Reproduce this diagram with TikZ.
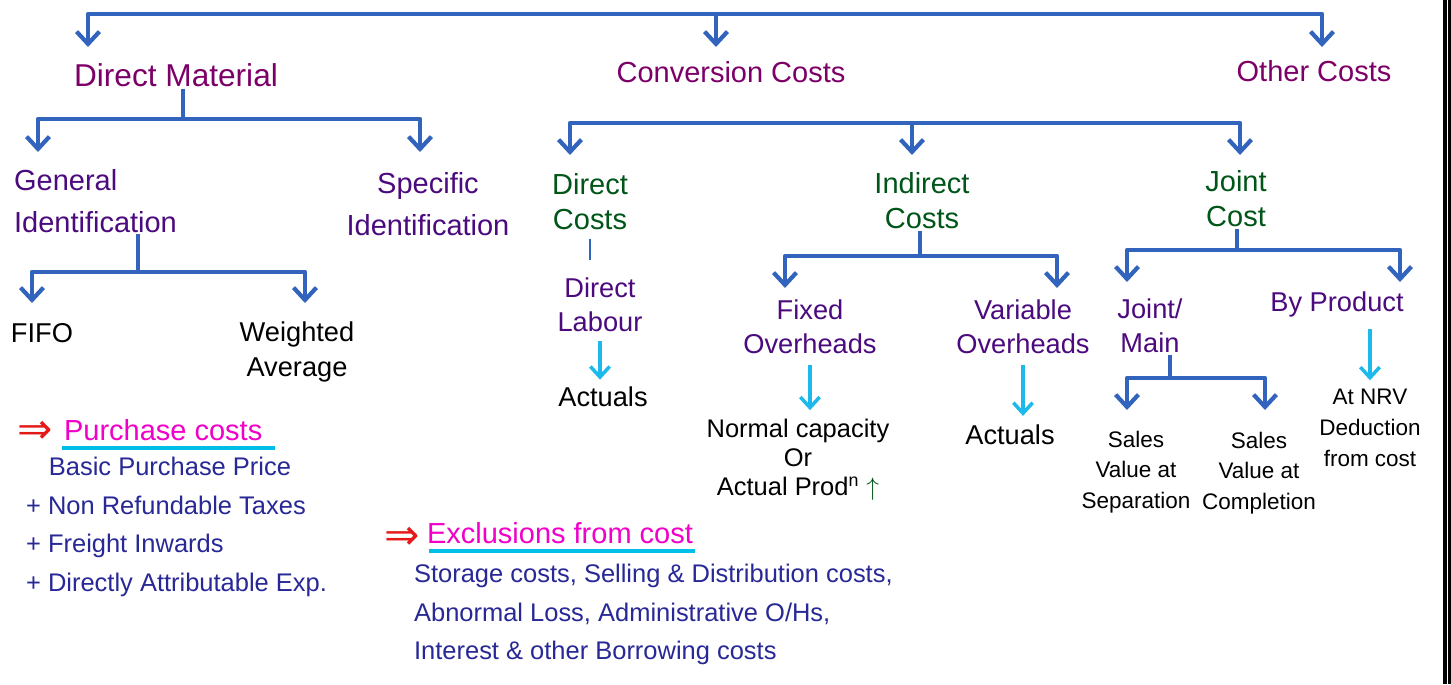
\documentclass[tikz,border=0pt]{standalone}
\usepackage{fontspec}
\setmainfont{Liberation Sans}
\newfontfamily\arrowfont{DejaVu Sans}
\usetikzlibrary{arrows.meta,positioning}
\definecolor{TreeBlue}{RGB}{50,100,190}
\definecolor{SkyArrow}{RGB}{30,185,235}
\definecolor{HeadPlum}{RGB}{125,0,105}
\definecolor{SubIndigo}{RGB}{75,10,125}
\definecolor{CostGreen}{RGB}{0,85,25}
\definecolor{NoteNavy}{RGB}{40,40,150}
\definecolor{HotPink}{RGB}{240,0,200}
\definecolor{LineCyan}{RGB}{0,190,230}
\definecolor{MarkRed}{RGB}{230,25,25}

\begin{document}
\begin{tikzpicture}[x=0.02cm,y=-0.02cm, every node/.style={align=center, inner sep=1pt}]
\tikzset{
  lvlone/.style={text=HeadPlum, font=\fontsize{16.5}{20}\selectfont},
  ident/.style={text=SubIndigo, font=\fontsize{16.5}{23.5}\selectfont},
  costs/.style={text=CostGreen, font=\fontsize{16.5}{20}\selectfont},
  subcost/.style={text=SubIndigo, font=\fontsize{15.5}{19.5}\selectfont},
  leaf/.style={text=black, font=\fontsize{15.5}{20}\selectfont},
  smallleaf/.style={text=black, font=\fontsize{12.8}{17.5}\selectfont},
  heading/.style={text=HotPink, font=\fontsize{16.5}{20}\selectfont},
  notes/.style={text=NoteNavy, align=left, font=\fontsize{14.5}{22}\selectfont},
  pointer/.style={text=MarkRed, font=\arrowfont\fontsize{24}{26}\selectfont},
  bus/.style={TreeBlue, line width=2.4pt, line join=round},
  branch/.style={bus, -{Straight Barb[length=7pt,width=13pt]}},
  twoway/.style={bus, {Straight Barb[length=7pt,width=13pt]}-{Straight Barb[length=7pt,width=13pt]}},
  hint/.style={SkyArrow, line width=2pt, -{Straight Barb[length=6pt,width=11pt]}},
  underl/.style={LineCyan, line width=1.8pt}
}
  \useasboundingbox[fill=white] (0,0) rectangle (1451,684);

  % top level
  \node[lvlone, font=\fontsize{18}{20}\selectfont] (dm) at (176,75) {Direct Material};
  \node[lvlone] (cc) at (731,72) {Conversion Costs};
  \node[lvlone] (oc) at (1314,71) {Other Costs};
  \coordinate (topbar) at (716,14);
  \coordinate (dmtip) at (88,47);
  \coordinate (cctip) at (716,47);
  \coordinate (octip) at (1322,47);
  \draw[twoway] (dmtip) -- (dmtip |- topbar) -- (octip |- topbar) -- (octip);
  \draw[branch] (cctip |- topbar) -- (cctip);

  % direct material
  \node[ident, align=left, anchor=west] (gi) at (12,201) {General\\Identification};
  \node[ident] (si) at (428,204) {Specific\\Identification};
  \coordinate (dmbar) at (183,119);
  \coordinate (gitip) at (38,152);
  \coordinate (sitip) at (420,152);
  \draw[bus] (dmbar |- dm.south) -- (dmbar);
  \draw[twoway] (gitip) -- (gitip |- dmbar) -- (sitip |- dmbar) -- (sitip);

  \node[leaf] (fifo) at (42,333) {FIFO};
  \node[leaf] (wa) at (297,352) {Weighted\\Average};
  \coordinate (gibar) at (138,272);
  \coordinate (fifotip) at (32,303);
  \coordinate (watip) at (305,303);
  \draw[bus] (gibar |- gi.south) -- (gibar);
  \draw[twoway] (fifotip) -- (fifotip |- gibar) -- (watip |- gibar) -- (watip);

  % conversion costs
  \node[costs] (dc) at (590,202) {Direct\\Costs};
  \node[costs] (ic) at (922,201) {Indirect\\Costs};
  \node[costs] (jc) at (1236,199) {Joint\\Cost};
  \coordinate (ccbar) at (912,123);
  \coordinate (dctip) at (570,155);
  \coordinate (ictip) at (912,155);
  \coordinate (jctip) at (1240,155);
  \draw[twoway] (dctip) -- (dctip |- ccbar) -- (jctip |- ccbar) -- (jctip);
  \draw[branch] (ictip |- ccbar) -- (ictip);

  \node[subcost] (dl) at (600,305) {Direct\\Labour};
  \node[leaf] (act1) at (603,397) {Actuals};
  \draw[TreeBlue, line width=1.2pt, shorten <=4pt, shorten >=9pt] (dc) -- (dc |- dl.north);
  \draw[hint, shorten <=4pt, shorten >=3pt] (dl) -- (dl |- act1.north);

  \node[subcost] (fo) at (810,327) {Fixed\\Overheads};
  \node[subcost] (vo) at (1023,327) {Variable\\Overheads};
  \coordinate (icbar) at (920,256);
  \coordinate (fotip) at (785,288);
  \coordinate (votip) at (1057,288);
  \draw[bus] (icbar |- ic.south) -- (icbar);
  \draw[twoway] (fotip) -- (fotip |- icbar) -- (votip |- icbar) -- (votip);

  \node[leaf, font=\fontsize{14.5}{16.5}\selectfont] (nc) at (798,460)
    {Normal capacity\\Or\\Actual Prod\textsuperscript{n} \textcolor{CostGreen}{$\uparrow$}};
  \node[leaf] (act2) at (1010,435) {Actuals};
  \draw[hint, shorten <=5pt, shorten >=4pt] (fo.south) -- (fo.south |- nc.north);
  \draw[hint, shorten <=5pt, shorten >=4pt] (vo.south) -- (vo.south |- act2.north);

  \node[subcost] (jm) at (1150,326) {Joint/\\Main};
  \node[subcost] (bp) at (1337,304) {By Product};
  \coordinate (jcbar) at (1237,250);
  \coordinate (jmtip) at (1127,282);
  \coordinate (bptip) at (1400,282);
  \draw[bus] (jcbar |- jc.south) -- (jcbar);
  \draw[twoway] (jmtip) -- (jmtip |- jcbar) -- (bptip |- jcbar) -- (bptip);

  \node[smallleaf] (svs) at (1136,472) {Sales\\Value at\\Separation};
  \node[smallleaf] (svc) at (1259,473) {Sales\\Value at\\Completion};
  \node[smallleaf] (nrv) at (1370,428) {At NRV\\Deduction\\from cost};
  \coordinate (jmbar) at (1170,378);
  \coordinate (svstip) at (1127,410);
  \coordinate (svctip) at (1265,410);
  \draw[bus] (jmbar |- jm.south) -- (jmbar);
  \draw[twoway] (svstip) -- (svstip |- jmbar) -- (svctip |- jmbar) -- (svctip);
  \draw[hint, shorten <=6pt, shorten >=4pt] (nrv.north |- bp.south) -- (nrv.north);

  % purchase costs
  \node[pointer] (pcmark) at (35,432) {⇒};
  \node[heading, anchor=west] (pc) at (62,430) {Purchase costs};
  \draw[underl] ([yshift=-3pt]pc.south west) -- ([yshift=-3pt,xshift=6pt]pc.south east);
  \node[notes, anchor=north west] (pcbody) at (24,455)
    {\hspace*{13pt}Basic Purchase Price\\+ Non Refundable Taxes\\+ Freight Inwards\\+ Directly Attributable Exp.};

  % exclusions
  \node[pointer] (exmark) at (402,538) {⇒};
  \node[heading, anchor=west] (ex) at (425,533) {Exclusions from cost};
  \draw[underl] ([yshift=-3pt,xshift=2pt]ex.south west) -- ([yshift=-3pt]ex.south east);
  \node[notes, anchor=north west] (exbody) at (412,562)
    {Storage costs, Selling \& Distribution costs,\\Abnormal Loss, Administrative O/Hs,\\Interest \& other Borrowing costs};

  % frame edge
  \fill[black] (1443,0) rectangle (1446.5,684);
  \fill[black] (1448,0) rectangle (1451,684);
\end{tikzpicture}
\end{document}
